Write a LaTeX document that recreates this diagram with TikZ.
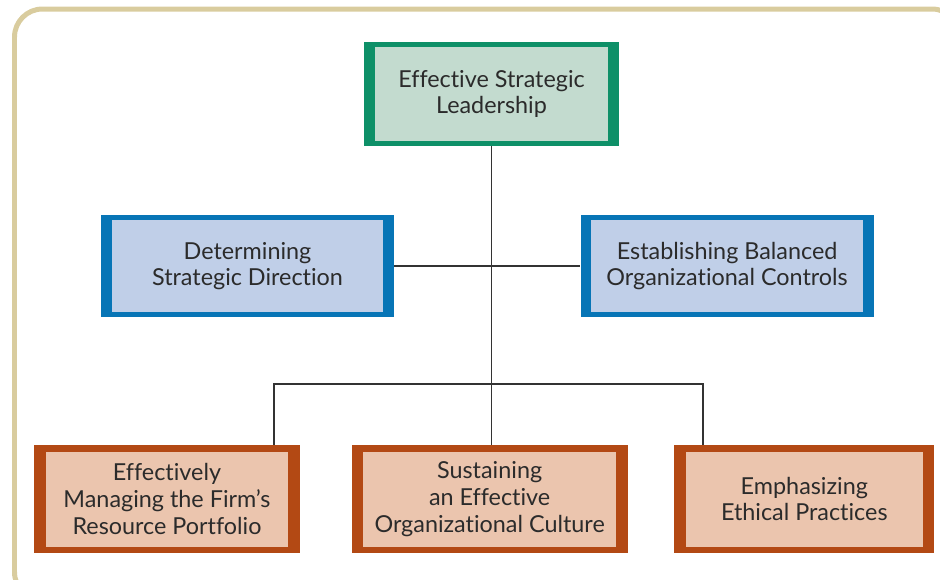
\documentclass[tikz,border=0pt]{standalone}
\usepackage{fontspec}
\setmainfont{Lato}[Ligatures=NoCommon]
\usepackage{xcolor}
\usetikzlibrary{positioning}
\definecolor{cverde}{HTML}{0E9068}
\definecolor{cverdeclaro}{HTML}{C3DBCF}
\definecolor{cazul}{HTML}{0775B6}
\definecolor{cazulclaro}{HTML}{C0CFE8}
\definecolor{cladrillo}{HTML}{B34914}
\definecolor{cladrilloclaro}{HTML}{EBC5AE}
\definecolor{cmarco}{HTML}{D9CC9E}
\definecolor{ctexto}{HTML}{2B2B2B}
\definecolor{clinea}{HTML}{333333}
\tikzset{
  caja/.style n args={4}{rectangle, inner sep=0pt, fill=#1, align=center,
    text=ctexto, font=\fontsize{13.3}{15.2}\selectfont,
    path picture={\fill[#2] ([shift={(#3,#4)}]path picture bounding box.south west)
      rectangle ([shift={(-#3,-#4)}]path picture bounding box.north east);}},
  cajav/.style={caja={cverde}{cverdeclaro}{0.21cm}{0.094cm}},
  cajaa/.style={caja={cazul}{cazulclaro}{0.21cm}{0.1cm}},
  cajal/.style={caja={cladrillo}{cladrilloclaro}{0.23cm}{0.13cm}},
  linea/.style={draw=clinea, line width=0.6pt},
  marco/.style={draw=cmarco, line width=0.1cm, rounded corners=0.56cm},
}

\begin{document}
\begin{tikzpicture}[x=0.02cm, y=-0.02cm]
  \useasboundingbox (0,0) rectangle (940,579);
  \clip (0,0) rectangle (940,579);
  \draw[marco] (14.5,9) rectangle (960,600);

  \node[cajav, minimum width=5.1cm, minimum height=2.08cm] (lider) at (491.5,94)
    {Effective Strategic\\Leadership};
  \node[cajaa, minimum width=5.86cm, minimum height=2.04cm] (direccion) at (247.5,266)
    {Determining\\Strategic Direction};
  \node[cajaa, minimum width=5.86cm, minimum height=2.04cm, right=3.72cm of direccion] (controles)
    {Establishing Balanced\\Organizational Controls};
  \node[cajal, minimum width=5.32cm, minimum height=2.16cm] (recursos) at (167,499)
    {Effectively\\Managing the Firm’s\\Resource Portfolio};
  \node[cajal, minimum width=5.52cm, minimum height=2.16cm, right=1.02cm of recursos] (cultura)
    {Sustaining\\an Effective\\Organizational Culture};
  \node[cajal, minimum width=5.2cm, minimum height=2.16cm, right=0.92cm of cultura] (etica)
    {Emphasizing\\Ethical Practices};

  \coordinate (busizq) at (274,384);
  \coordinate (busder) at (703,384);
  \draw[linea] (lider.south) -- (lider.south |- cultura.north);
  \draw[linea] (direccion) -- (controles);
  \draw[linea] (recursos.north -| busizq) |- (busder) -- (etica.north -| busder);
\end{tikzpicture}
\end{document}
